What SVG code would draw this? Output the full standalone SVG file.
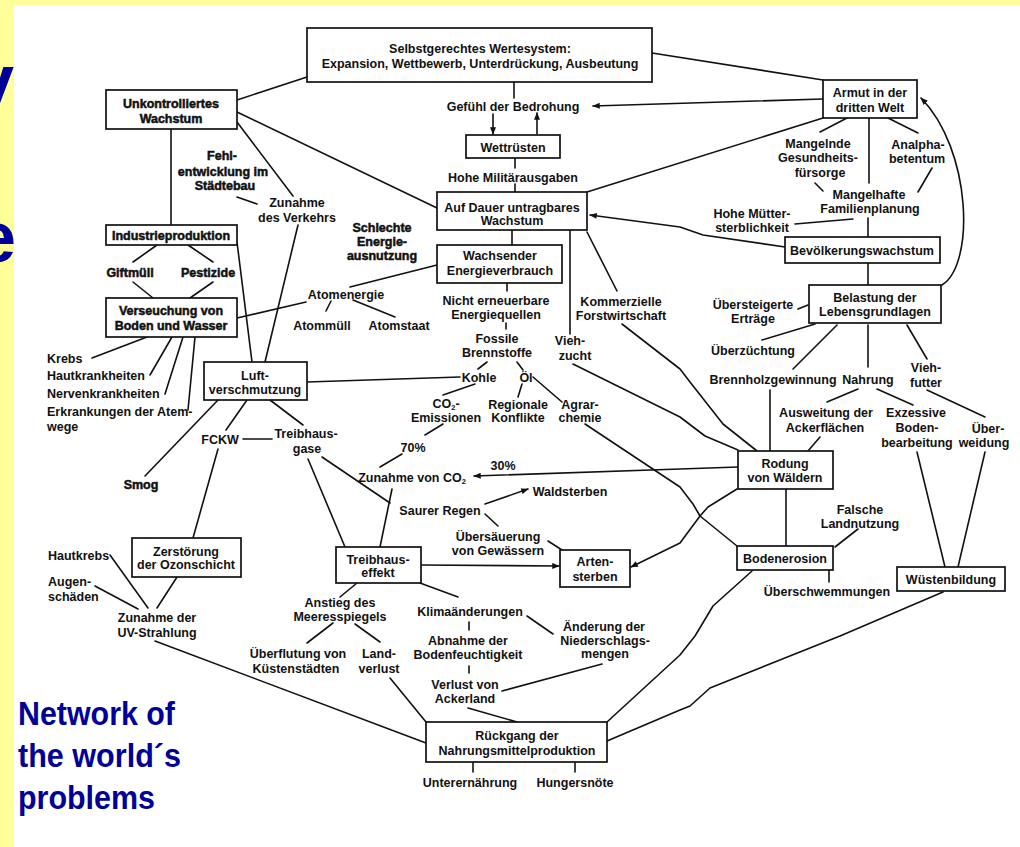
<svg xmlns="http://www.w3.org/2000/svg" width="1020" height="847" viewBox="0 0 1020 847">
<defs>
<style>
.t{font-family:"Liberation Sans",Arial,sans-serif;font-weight:bold;font-size:12.5px;fill:#111;text-anchor:middle}
.l{text-anchor:start}
.h{stroke:#111;stroke-width:0.5}
.b{fill:#fff;stroke:#111;stroke-width:1.7}
.c{fill:none;stroke:#111;stroke-width:1.6;stroke-linejoin:round;stroke-linecap:round}
.blue{font-family:"Liberation Sans",Arial,sans-serif;font-weight:bold;fill:#000099}
</style>
<marker id="ar" viewBox="0 0 10 8" refX="9" refY="4" markerWidth="8" markerHeight="6" orient="auto" markerUnits="userSpaceOnUse"><path d="M0,0 L10,4 L0,8 z" fill="#111"/></marker>
</defs>
<rect x="0" y="0" width="1020" height="847" fill="#FFFF99"/>
<text class="blue" x="-26" y="105" font-size="72">y</text>
<text class="blue" x="-24" y="262" font-size="72">e</text>
<rect x="14" y="5" width="1006" height="842" fill="#fff"/>

<g id="connectors">
<path class="c" d="M237,100 L307,77"/>
<path class="c" d="M237,112 L437,208"/>
<path class="c" d="M237,122 L293,196"/>
<path class="c" d="M171,129 L171,225" stroke-width="2.2"/>
<path class="c" d="M237,197 L257,204"/>
<path class="c" d="M514,82 L514,98"/>
<path class="c" d="M493,114 L493,134" marker-end="url(#ar)"/>
<path class="c" d="M537,134 L537,113" marker-end="url(#ar)"/>
<path class="c" d="M515,158 L515,168"/>
<path class="c" d="M515,184 L515,192"/>
<path class="c" d="M652,53 L823,80"/>
<path class="c" d="M823,99 L593,106" marker-end="url(#ar)"/>
<path class="c" d="M587,192 L823,118"/>
<path class="c" d="M847,118 L820,132"/>
<path class="c" d="M869,118 L869,183"/>
<path class="c" d="M888,118 L918,133"/>
<path class="c" d="M815,183 L823,191"/>
<path class="c" d="M932,168 L918,192"/>
<path class="c" d="M795,224 L853,219"/>
<path class="c" d="M868,218 L868,237"/>
<path class="c" d="M785,247 L703,235 L680,227 L590,215" marker-end="url(#ar)"/>
<path class="c" d="M868,263 L868,285"/>
<path class="c" d="M942,285 C975,265 972,150 921,98" marker-end="url(#ar)"/>
<path class="c" d="M808,305 L798,309"/>
<path class="c" d="M815,324 L762,340"/>
<path class="c" d="M837,325 L793,369"/>
<path class="c" d="M868,325 L868,367"/>
<path class="c" d="M907,325 L927,359"/>
<path class="c" d="M858,389 L827,402"/>
<path class="c" d="M877,389 L913,405"/>
<path class="c" d="M927,390 L985,417"/>
<path class="c" d="M770,390 L770,451"/>
<path class="c" d="M820,437 L808,451"/>
<path class="c" d="M622,324 L680,369 L690,382 L723,424 L757,451"/>
<path class="c" d="M587,232 L617,291"/>
<path class="c" d="M570,230 L570,334"/>
<path class="c" d="M573,364 L680,417 L705,436 L738,450"/>
<path class="c" d="M738,467 L680,469 L474,476" marker-end="url(#ar)"/>
<path class="c" d="M737,489 L708,507 L700,516 L680,543 L631,567" marker-end="url(#ar)"/>
<path class="c" d="M786,489 L786,546"/>
<path class="c" d="M585,424 L680,487 L693,504 L700,516 L737,546"/>
<path class="c" d="M858,529 L835,547"/>
<path class="c" d="M829,570 L829,582"/>
<path class="c" d="M752,571 L713,606 L695,636 L680,655 L607,722"/>
<path class="c" d="M917,452 L945,567"/>
<path class="c" d="M985,452 L958,567"/>
<path class="c" d="M943,592 L840,636 L710,688 L690,706 L680,710 L607,741"/>
<path class="c" d="M157,245 L133,262"/>
<path class="c" d="M188,245 L213,262"/>
<path class="c" d="M133,282 L153,298"/>
<path class="c" d="M213,282 L190,298"/>
<path class="c" d="M237,242 L252,362"/>
<path class="c" d="M298,225 L265,362"/>
<path class="c" d="M237,318 L306,302"/>
<path class="c" d="M147,337 L92,358"/>
<path class="c" d="M172,337 L150,375"/>
<path class="c" d="M183,337 L165,394"/>
<path class="c" d="M195,337 L188,410"/>
<path class="c" d="M307,382 L460,377"/>
<path class="c" d="M218,400 L145,476"/>
<path class="c" d="M247,400 L226,430"/>
<path class="c" d="M270,400 L303,425"/>
<path class="c" d="M243,439 L272,439"/>
<path class="c" d="M218,449 L193,538"/>
<path class="c" d="M177,577 L157,608"/>
<path class="c" d="M110,555 L148,608"/>
<path class="c" d="M95,586 L138,609"/>
<path class="c" d="M155,641 L426,743"/>
<path class="c" d="M308,459 L345,547"/>
<path class="c" d="M322,457 L390,503"/>
<path class="c" d="M437,265 L350,287"/>
<path class="c" d="M331,301 L326,311"/>
<path class="c" d="M353,300 L395,317"/>
<path class="c" d="M512,230 L512,245"/>
<path class="c" d="M507,283 L507,291"/>
<path class="c" d="M506,323 L506,329"/>
<path class="c" d="M487,362 L478,369"/>
<path class="c" d="M517,362 L523,370"/>
<path class="c" d="M475,384 L443,395"/>
<path class="c" d="M522,384 L518,397"/>
<path class="c" d="M533,377 L562,402"/>
<path class="c" d="M443,424 L425,435"/>
<path class="c" d="M402,454 L380,467"/>
<path class="c" d="M392,489 L380,547"/>
<path class="c" d="M485,504 L528,489" marker-end="url(#ar)"/>
<path class="c" d="M485,514 L498,526"/>
<path class="c" d="M548,541 L562,550"/>
<path class="c" d="M421,565 L559,566" marker-end="url(#ar)"/>
<path class="c" d="M357,583 L340,597"/>
<path class="c" d="M420,583 L458,597"/>
<path class="c" d="M333,623 L307,643"/>
<path class="c" d="M355,624 L380,642"/>
<path class="c" d="M469,622 L469,630"/>
<path class="c" d="M527,616 L553,634"/>
<path class="c" d="M469,666 L469,673"/>
<path class="c" d="M602,664 L502,691"/>
<path class="c" d="M468,708 L517,722"/>
<path class="c" d="M390,678 L426,722"/>
<path class="c" d="M473,762 L473,772"/>
<path class="c" d="M575,762 L575,772"/>
</g>

<g id="selbstgerecht"><rect class="b" x="307" y="28" width="345" height="54"/><text class="t" x="480" y="52.5" font-size="13">Selbstgerechtes Wertesystem:</text><text class="t" x="480" y="67.5" font-size="13">Expansion, Wettbewerb, Unterdrückung, Ausbeutung</text></g>
<g id="unkontrolliert"><rect class="b" x="106" y="90" width="131" height="39"/><text class="t h" x="171" y="107.5">Unkontrolliertes</text><text class="t h" x="171" y="122.5">Wachstum</text></g>
<g id="gefuehl"><text class="t" x="513" y="110.5">Gefühl der Bedrohung</text></g>
<g id="wettruesten"><rect class="b" x="466" y="135" width="94" height="23"/><text class="t" x="513" y="151.5">Wettrüsten</text></g>
<g id="militaer"><text class="t" x="513" y="181.5">Hohe Militärausgaben</text></g>
<g id="aufdauer"><rect class="b" x="437" y="192" width="150" height="38"/><text class="t" x="512" y="211.5">Auf Dauer untragbares</text><text class="t" x="512" y="225">Wachstum</text></g>
<g id="armut"><rect class="b" x="823" y="80" width="94" height="38"/><text class="t" x="870" y="96.5">Armut in der</text><text class="t" x="870" y="111.5">dritten Welt</text></g>
<g id="mangelnde"><text class="t" x="818" y="147.5">Mangelnde</text><text class="t" x="818" y="161.5">Gesundheits-</text><text class="t" x="820" y="176.5">fürsorge</text></g>
<g id="analpha"><text class="t" x="918" y="149">Analpha-</text><text class="t" x="917" y="163">betentum</text></g>
<g id="mangelhafte"><text class="t" x="869" y="198.5">Mangelhafte</text><text class="t" x="870" y="213">Familienplanung</text></g>
<g id="muetter"><text class="t" x="752" y="218">Hohe Mütter-</text><text class="t" x="752" y="231.5">sterblichkeit</text></g>
<g id="bevoelkerung"><rect class="b" x="785" y="237" width="155" height="26"/><text class="t" x="862" y="254.5">Bevölkerungswachstum</text></g>
<g id="belastung"><rect class="b" x="809" y="285" width="132" height="38"/><text class="t" x="875" y="301.5">Belastung der</text><text class="t" x="875" y="315.5">Lebensgrundlagen</text></g>
<g id="uebersteigerte"><text class="t" x="753" y="308.5">Übersteigerte</text><text class="t" x="753" y="322.5">Erträge</text></g>
<g id="ueberzuechtung"><text class="t" x="753" y="354.5">Überzüchtung</text></g>
<g id="brennholz"><text class="t" x="773" y="383.5">Brennholzgewinnung</text></g>
<g id="nahrung"><text class="t" x="868" y="383.5">Nahrung</text></g>
<g id="viehfutter"><text class="t" x="926" y="371.5">Vieh-</text><text class="t" x="926" y="386.5">futter</text></g>
<g id="ausweitung"><text class="t" x="826" y="416.5">Ausweitung der</text><text class="t" x="825" y="432">Ackerflächen</text></g>
<g id="exzessive"><text class="t" x="916" y="416.5">Exzessive</text><text class="t" x="917" y="432">Boden-</text><text class="t" x="917" y="446.5">bearbeitung</text></g>
<g id="ueberweidung"><text class="t" x="988" y="433">Über-</text><text class="t" x="984" y="446.5">weidung</text></g>
<g id="rodung"><rect class="b" x="738" y="451" width="95" height="38"/><text class="t" x="785" y="467.5">Rodung</text><text class="t" x="785" y="481.5">von Wäldern</text></g>
<g id="falsche"><text class="t" x="860" y="513.5">Falsche</text><text class="t" x="860" y="527.5">Landnutzung</text></g>
<g id="bodenerosion"><rect class="b" x="737" y="546" width="96" height="24"/><text class="t" x="785" y="562.5">Bodenerosion</text></g>
<g id="ueberschwemmungen"><text class="t" x="827" y="595.5">Überschwemmungen</text></g>
<g id="wuestenbildung"><rect class="b" x="897" y="567" width="108" height="24"/><text class="t" x="951" y="583.5">Wüstenbildung</text></g>
<g id="industrie"><rect class="b" x="106" y="225" width="131" height="20"/><text class="t h" x="171" y="239.5">Industrieproduktion</text></g>
<g id="giftmuell"><text class="t h" x="130" y="276.5">Giftmüll</text></g>
<g id="pestizide"><text class="t h" x="208" y="276.5">Pestizide</text></g>
<g id="verseuchung"><rect class="b" x="106" y="298" width="131" height="39"/><text class="t h" x="171" y="314.5">Verseuchung von</text><text class="t h" x="171" y="329.5">Boden und Wasser</text></g>
<g id="krebs"><text class="t l" x="47" y="363">Krebs</text></g>
<g id="haut"><text class="t l" x="47" y="380">Hautkrankheiten</text></g>
<g id="nerven"><text class="t l" x="47" y="398">Nervenkrankheiten</text></g>
<g id="atemwege"><text class="t l" x="47" y="416">Erkrankungen der Atem-</text><text class="t l" x="47" y="431">wege</text></g>
<g id="fehlentwicklung"><text class="t h" x="222" y="159.5">Fehl-</text><text class="t h" x="223" y="175.5">entwicklung im</text><text class="t h" x="225" y="189.5">Städtebau</text></g>
<g id="verkehr"><text class="t" x="297" y="206.5">Zunahme</text><text class="t" x="297" y="221.5">des Verkehrs</text></g>
<g id="luft"><rect class="b" x="204" y="362" width="103" height="38"/><text class="t" x="255" y="379.5">Luft-</text><text class="t" x="255" y="393.5">verschmutzung</text></g>
<g id="schlechte"><text class="t h" x="382" y="231.5">Schlechte</text><text class="t h" x="382" y="245.5">Energie-</text><text class="t h" x="382" y="259.5">ausnutzung</text></g>
<g id="wachsender"><rect class="b" x="437" y="245" width="125" height="38"/><text class="t" x="500" y="259.5">Wachsender</text><text class="t" x="500" y="274.5">Energieverbrauch</text></g>
<g id="atomenergie"><text class="t" x="346" y="298.5">Atomenergie</text></g>
<g id="atommuell"><text class="t" x="322" y="329.5">Atommüll</text></g>
<g id="atomstaat"><text class="t" x="399" y="329.5">Atomstaat</text></g>
<g id="nichterneuerbar"><text class="t" x="496" y="304.5">Nicht erneuerbare</text><text class="t" x="496" y="318.5">Energiequellen</text></g>
<g id="fossile"><text class="t" x="497" y="342.5">Fossile</text><text class="t" x="497" y="356.5">Brennstoffe</text></g>
<g id="kohle"><text class="t" x="479" y="381.5">Kohle</text></g>
<g id="oel"><text class="t" x="526" y="381.5">Öl</text></g>
<g id="co2em"><text class="t" x="446" y="407.5">CO<tspan font-size="7.5" dy="2">2</tspan><tspan dy="-2">-</tspan></text><text class="t" x="446" y="422">Emissionen</text></g>
<g id="regionale"><text class="t" x="518" y="408.5">Regionale</text><text class="t" x="518" y="422">Konflikte</text></g>
<g id="agrarchemie"><text class="t" x="580" y="408.5">Agrar-</text><text class="t" x="580" y="422">chemie</text></g>
<g id="viehzucht"><text class="t" x="570" y="344.5">Vieh-</text><text class="t" x="575" y="359.5">zucht</text></g>
<g id="kommerzielle"><text class="t" x="621" y="305.5">Kommerzielle</text><text class="t" x="621" y="319.5">Forstwirtschaft</text></g>
<g id="smog"><text class="t h" x="141" y="488.5">Smog</text></g>
<g id="fckw"><text class="t" x="220" y="443.5">FCKW</text></g>
<g id="treibhausgase"><text class="t" x="306" y="437.5">Treibhaus-</text><text class="t" x="307" y="452.5">gase</text></g>
<g id="p70"><text class="t" x="413" y="451.5">70%</text></g>
<g id="zunahmeco2"><text class="t" x="412" y="481.5">Zunahme von CO<tspan font-size="7.5" dy="2">2</tspan></text></g>
<g id="p30"><text class="t" x="503" y="469.5">30%</text></g>
<g id="saurer"><text class="t" x="440" y="514.5">Saurer Regen</text></g>
<g id="waldsterben"><text class="t" x="570" y="495.5">Waldsterben</text></g>
<g id="uebersaeuerung"><text class="t" x="498" y="540.5">Übersäuerung</text><text class="t" x="498" y="554.5">von Gewässern</text></g>
<g id="treibhauseffekt"><rect class="b" x="336" y="547" width="85" height="36"/><text class="t" x="378" y="563.5">Treibhaus-</text><text class="t" x="378" y="576.5">effekt</text></g>
<g id="artensterben"><rect class="b" x="560" y="550" width="70" height="37"/><text class="t" x="595" y="565.5">Arten-</text><text class="t" x="595" y="580.5">sterben</text></g>
<g id="ozon"><rect class="b" x="132" y="538" width="109" height="39"/><text class="t" x="186" y="555.5">Zerstörung</text><text class="t" x="186" y="568.5">der Ozonschicht</text></g>
<g id="hautkrebs"><text class="t l" x="48" y="559.5">Hautkrebs</text></g>
<g id="augen"><text class="t l" x="48" y="585.5">Augen-</text><text class="t l" x="48" y="600.5">schäden</text></g>
<g id="uv"><text class="t" x="157" y="621.5">Zunahme der</text><text class="t" x="157" y="636.5">UV-Strahlung</text></g>
<g id="anstieg"><text class="t" x="340" y="606.5">Anstieg des</text><text class="t" x="340" y="620.5">Meeresspiegels</text></g>
<g id="klima"><text class="t" x="470" y="615.5">Klimaänderungen</text></g>
<g id="niederschlag"><text class="t" x="604" y="630.5">Änderung der</text><text class="t" x="605" y="644.5">Niederschlags-</text><text class="t" x="605" y="657.5">mengen</text></g>
<g id="bodenfeucht"><text class="t" x="468" y="644.5">Abnahme der</text><text class="t" x="468" y="658.5">Bodenfeuchtigkeit</text></g>
<g id="ueberflutung"><text class="t" x="298" y="657.5">Überflutung von</text><text class="t" x="296" y="672.5">Küstenstädten</text></g>
<g id="landverlust"><text class="t" x="379" y="657.5">Land-</text><text class="t" x="379" y="672.5">verlust</text></g>
<g id="ackerland"><text class="t" x="465" y="688.5">Verlust von</text><text class="t" x="465" y="702.5">Ackerland</text></g>
<g id="rueckgang"><rect class="b" x="426" y="722" width="181" height="40"/><text class="t" x="517" y="739.5">Rückgang der</text><text class="t" x="517" y="754.5">Nahrungsmittelproduktion</text></g>
<g id="unterernaehrung"><text class="t" x="470" y="786.5">Unterernährung</text></g>
<g id="hungersnoete"><text class="t" x="575" y="786.5">Hungersnöte</text></g>

<g id="caption">
<text class="blue" x="18" y="725" font-size="34" textLength="157" lengthAdjust="spacingAndGlyphs">Network of</text>
<text class="blue" x="18" y="767" font-size="34" textLength="163" lengthAdjust="spacingAndGlyphs">the world´s</text>
<text class="blue" x="18" y="809" font-size="34" textLength="137" lengthAdjust="spacingAndGlyphs">problems</text>
</g>
</svg>
